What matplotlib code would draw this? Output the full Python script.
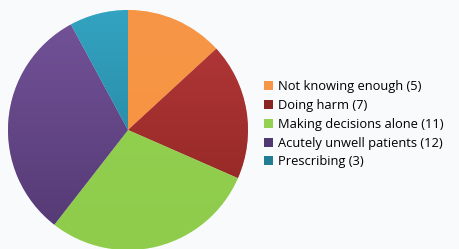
import matplotlib.pyplot as plt
import numpy as np
from matplotlib.colors import LinearSegmentedColormap
from matplotlib.patches import Rectangle

labels = ["Not knowing enough", "Doing harm", "Making decisions alone",
          "Acutely unwell patients", "Prescribing"]
counts = [5, 7, 11, 12, 3]
top_colors = ["#F79646", "#B6393A", "#93D152", "#745399", "#33A3C1"]
bottom_colors = ["#F59341", "#8A2420", "#8FCC4C", "#523872", "#227C94"]

plt.rcParams['font.family'] = ['Open Sans', 'DejaVu Sans']

fig = plt.figure(figsize=(4.6, 2.49), dpi=100)
fig.patch.set_facecolor("#F9FAFC")
ax = fig.add_axes([8 / 460, -1 / 249, 240 / 460, 240 / 249])
ax.set_facecolor("none")

wedges, _ = ax.pie(counts, startangle=90, counterclock=False, radius=1,
                   colors=top_colors, wedgeprops=dict(linewidth=0.4, edgecolor="#ffffff"))

# vertical gradient inside each slice
grad = np.linspace(0, 1, 256).reshape(-1, 1)
for w, c0, c1 in zip(wedges, top_colors, bottom_colors):
    cmap = LinearSegmentedColormap.from_list("g", [c0, c1])
    im = ax.imshow(grad, cmap=cmap, extent=[-1, 1, -1, 1], origin="upper",
                   aspect="auto", zorder=w.get_zorder() + 0.1)
    im.set_clip_path(w)

ax.set_xlim(-1.0, 1.0)
ax.set_ylim(-1.0, 1.0)
ax.set_aspect("equal")
ax.axis("off")

handles = [Rectangle((0, 0), 1, 1, facecolor=c1 if i in (1, 3, 4) else c0, edgecolor="none")
           for i, (c0, c1) in enumerate(zip(top_colors, bottom_colors))]
leg_labels = [f"{l} ({n})" for l, n in zip(labels, counts)]
fig.legend(handles, leg_labels, loc="upper left", bbox_to_anchor=(259 / 460, 1 - 75 / 249),
           frameon=False, fontsize=9.3, handlelength=0.7, handleheight=0.7,
           handletextpad=0.4, labelspacing=0.45, borderaxespad=0)

fig.savefig("out.png", dpi=100, facecolor=fig.get_facecolor())
